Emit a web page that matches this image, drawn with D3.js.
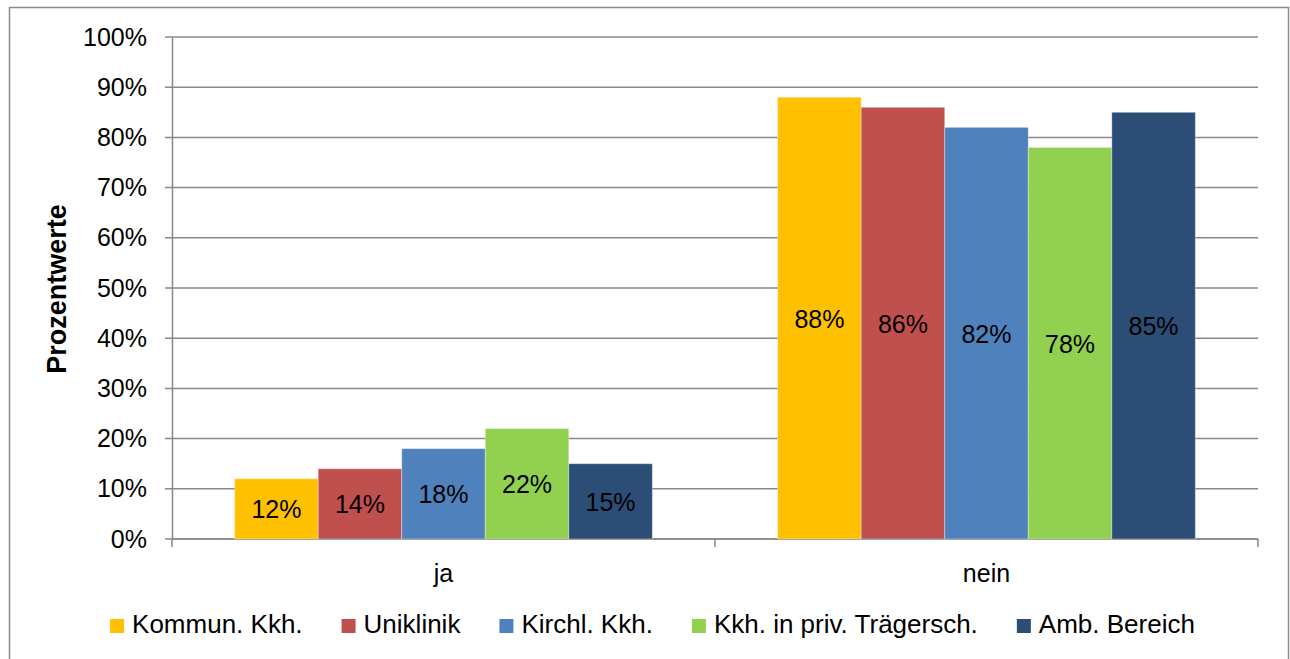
<!DOCTYPE html>
<html>
<head>
<meta charset="utf-8">
<script src="https://cdn.jsdelivr.net/npm/d3@7"></script>
<style>
  html, body { margin: 0; padding: 0; background: #fff; }
  svg { display: block; font-family: "Liberation Sans", Arial, sans-serif; }
</style>
</head>
<body>
<svg id="chart" width="1290" height="659"></svg>
<script>
// Antworten (Kategorien auf der x-Achse)
const categories = ["ja", "nein"];
// Einrichtungstypen (Datenreihen)
const seriesNames = ["Kommun. Kkh.", "Uniklinik", "Kirchl. Kkh.", "Kkh. in priv. Trägersch.", "Amb. Bereich"];
const seriesColors = ["#FFC000", "#C0504D", "#4F81BD", "#92D050", "#2C4D75"];
// Prozentwerte je Reihe: [ja, nein]
const kommunValues = [12, 88];
const uniklinikValues = [14, 86];
const kirchlValues = [18, 82];
const privValues = [22, 78];
const ambValues = [15, 85];
const seriesValues = [kommunValues, uniklinikValues, kirchlValues, privValues, ambValues];
// Achsenbeschriftung
const yTicks = [0, 10, 20, 30, 40, 50, 60, 70, 80, 90, 100];
const yTitle = "Prozentwerte";

const svg = d3.select("#chart");
const plot = { left: 172, right: 1258, top: 37, bottom: 539 };

// Rahmen um das Diagramm
svg.append("rect")
  .attr("x", 9.5).attr("y", 7.5)
  .attr("width", 1279).attr("height", 700)
  .attr("fill", "#fff")
  .attr("stroke", "#8c8c8c").attr("stroke-width", 1.5);

const y = d3.scaleLinear().domain([0, 100]).range([plot.bottom, plot.top]);
const x0 = d3.scaleBand().domain(categories).range([plot.left, plot.right]).padding(0);
const x1 = d3.scaleBand().domain(seriesNames).range([0, x0.bandwidth()])
  .paddingInner(0).paddingOuter(0.75);

// Gitterlinien
svg.append("g")
  .selectAll("line")
  .data(yTicks)
  .join("line")
  .attr("x1", plot.left - 7).attr("x2", plot.right)
  .attr("y1", d => y(d)).attr("y2", d => y(d))
  .attr("stroke", "#888").attr("stroke-width", 1.5);

// y-Achse
const yAxis = svg.append("g")
  .attr("transform", `translate(${plot.left},0)`)
  .call(d3.axisLeft(y).tickValues(yTicks).tickFormat(d => d + "%").tickSize(0).tickPadding(25));
yAxis.select(".domain").attr("stroke", "#888").attr("stroke-width", 1.5);
yAxis.selectAll("text")
  .attr("font-size", 25).attr("fill", "#000")
  .attr("font-family", "'Liberation Sans', Arial, sans-serif");

// x-Achse
const xAxis = svg.append("g")
  .attr("transform", `translate(0,${plot.bottom})`);
xAxis.append("line")
  .attr("x1", plot.left).attr("x2", plot.right)
  .attr("y1", 0).attr("y2", 0)
  .attr("stroke", "#888").attr("stroke-width", 1.5);
const boundaries = categories.map(c => x0(c)).concat([x0(categories[categories.length - 1]) + x0.bandwidth()]);
xAxis.selectAll("line.tick")
  .data(boundaries)
  .join("line")
  .attr("class", "tick")
  .attr("x1", d => d).attr("x2", d => d)
  .attr("y1", 0).attr("y2", 8)
  .attr("stroke", "#888").attr("stroke-width", 1.5);
xAxis.selectAll("text")
  .data(categories)
  .join("text")
  .attr("x", d => x0(d) + x0.bandwidth() / 2)
  .attr("y", 43)
  .attr("text-anchor", "middle")
  .attr("font-size", 25)
  .attr("fill", "#000")
  .text(d => d);

// Balken
const bars = [];
seriesNames.forEach((s, si) => {
  categories.forEach((c, ci) => {
    bars.push({ series: s, cat: c, value: seriesValues[si][ci], color: seriesColors[si] });
  });
});

svg.append("g")
  .selectAll("rect")
  .data(bars)
  .join("rect")
  .attr("x", d => x0(d.cat) + x1(d.series))
  .attr("y", d => y(d.value))
  .attr("width", x1.bandwidth())
  .attr("height", d => y(0) - y(d.value))
  .attr("fill", d => d.color)
  .attr("stroke", "rgba(255,255,255,0.35)")
  .attr("stroke-width", 1);

// Datenbeschriftungen
svg.append("g")
  .selectAll("text")
  .data(bars)
  .join("text")
  .attr("x", d => x0(d.cat) + x1(d.series) + x1.bandwidth() / 2)
  .attr("y", d => (y(d.value) + y(0)) / 2)
  .attr("dy", "0.38em")
  .attr("text-anchor", "middle")
  .attr("font-size", 25)
  .attr("fill", "#000")
  .text(d => d.value + "%");

// Titel der y-Achse
svg.append("text")
  .attr("transform", `translate(66,${(plot.top + plot.bottom) / 2 + 1}) rotate(-90)`)
  .attr("text-anchor", "middle")
  .attr("font-size", 27)
  .attr("font-weight", "bold")
  .attr("fill", "#000")
  .text(yTitle);

// Legende
const legend = svg.append("g");
const items = legend.selectAll("g")
  .data(seriesNames)
  .join("g");
items.append("rect")
  .attr("width", 14).attr("height", 14)
  .attr("y", -14)
  .attr("fill", (d, i) => seriesColors[i]);
items.append("text")
  .attr("x", 22)
  .attr("y", 0)
  .attr("font-size", 26)
  .attr("fill", "#000")
  .text(d => d);

let cx = 0;
const gap = 39;
items.each(function () {
  const g = d3.select(this);
  g.attr("transform", `translate(${cx},0)`);
  cx += 22 + g.select("text").node().getComputedTextLength() + gap;
});
const totalW = cx - gap;
legend.attr("transform", `translate(${652.5 - totalW / 2},633)`);
</script>
</body>
</html>
